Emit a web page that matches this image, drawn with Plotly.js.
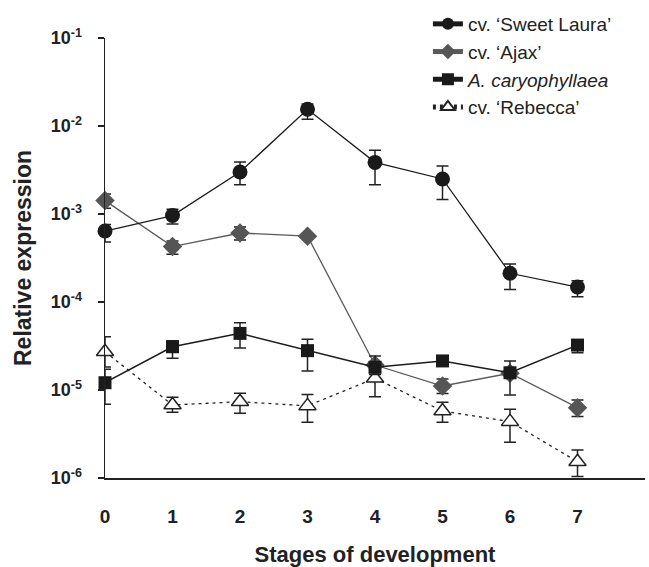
<!DOCTYPE html>
<html>
<head>
<meta charset="utf-8">
<script src="https://cdn.plot.ly/plotly-3.0.1.min.js"></script>
<style>html,body{margin:0;padding:0;background:#fff;}#chart{width:649px;height:567px;}</style>
</head>
<body>
<div id="chart"></div>
<script>
// Stages of development
const stages = [0, 1, 2, 3, 4, 5, 6, 7];

// cv. 'Sweet Laura'
const sweetLaura   = [6.4e-4, 9.6e-4, 3.0e-3, 1.55e-2, 3.86e-3, 2.5e-3, 2.12e-4, 1.48e-4];
const sweetLauraHi = [7.6e-4, 1.13e-3, 3.9e-3, 1.78e-2, 5.3e-3, 3.5e-3, 2.7e-4, 1.74e-4];
const sweetLauraLo = [4.8e-4, 7.7e-4, 2.15e-3, 1.19e-2, 2.15e-3, 1.46e-3, 1.39e-4, 1.15e-4];

// cv. 'Ajax'
const ajax   = [1.42e-3, 4.26e-4, 6.08e-4, 5.6e-4, 1.92e-5, 1.11e-5, 1.55e-5, 6.3e-6];
const ajaxHi = [1.69e-3, 4.93e-4, 7.1e-4, 5.9e-4, 2.1e-5, 1.33e-5, 1.7e-5, 7.7e-6];
const ajaxLo = [1.16e-3, 3.48e-4, 5.07e-4, 5.3e-4, 1.75e-5, 9.1e-6, 1.4e-5, 5.0e-6];

// A. caryophyllaea
const caryo   = [1.21e-5, 3.1e-5, 4.4e-5, 2.8e-5, 1.81e-5, 2.14e-5, 1.57e-5, 3.24e-5];
const caryoHi = [1.72e-5, 3.63e-5, 5.8e-5, 3.77e-5, 2.43e-5, 2.35e-5, 2.14e-5, 3.6e-5];
const caryoLo = [6.9e-6, 2.29e-5, 3.0e-5, 1.64e-5, 1.5e-5, 1.95e-5, 8.8e-6, 2.65e-5];

// cv. 'Rebecca'
const rebecca   = [2.72e-5, 6.76e-6, 7.36e-6, 6.6e-6, 1.36e-5, 5.77e-6, 4.37e-6, 1.53e-6];
const rebeccaHi = [4.04e-5, 8.26e-6, 9.16e-6, 8.9e-6, 1.82e-5, 7.24e-6, 6.03e-6, 2.08e-6];
const rebeccaLo = [1.82e-5, 5.58e-6, 5.43e-6, 4.3e-6, 8.4e-6, 4.3e-6, 2.55e-6, 1.04e-6];

// Tick labels
const yTickVals = [1e-6, 1e-5, 1e-4, 1e-3, 1e-2, 1e-1];
const yTickText = ['10<sup>-6</sup>', '10<sup>-5</sup>', '10<sup>-4</sup>', '10<sup>-3</sup>', '10<sup>-2</sup>', '10<sup>-1</sup>'];
const xTickText = ['0', '1', '2', '3', '4', '5', '6', '7'];

const names = {
  sl: "cv. \u2018Sweet Laura\u2019",
  aj: "cv. \u2018Ajax\u2019",
  ca: "<i>A. caryophyllaea</i>",
  rb: "cv. \u2018Rebecca\u2019"
};

function errs(v, hi, lo, color) {
  return {
    type: 'data', symmetric: false,
    array: v.map((d, i) => hi[i] - d),
    arrayminus: v.map((d, i) => d - lo[i]),
    color: color, thickness: 1.5, width: 6
  };
}

const traces = [
  {
    x: stages, y: rebecca, name: names.rb, type: 'scatter', mode: 'lines+markers',
    line: {color: '#222', width: 1.3, dash: '3px,4px'},
    marker: {symbol: 'triangle-up', size: 15, color: '#fff', line: {color: '#222', width: 1.5}},
    error_y: errs(rebecca, rebeccaHi, rebeccaLo, '#222'),
    cliponaxis: false, legendrank: 4
  },
  {
    x: stages, y: ajax, name: names.aj, type: 'scatter', mode: 'lines+markers',
    line: {color: '#5a5a5a', width: 1.3},
    marker: {symbol: 'diamond', size: 15, color: '#555555'},
    error_y: errs(ajax, ajaxHi, ajaxLo, '#222'),
    cliponaxis: false, legendrank: 2
  },
  {
    x: stages, y: caryo, name: names.ca, type: 'scatter', mode: 'lines+markers',
    line: {color: '#1a1a1a', width: 1.5},
    marker: {symbol: 'square', size: 13, color: '#1a1a1a'},
    error_y: errs(caryo, caryoHi, caryoLo, '#222'),
    cliponaxis: false, legendrank: 3
  },
  {
    x: stages, y: sweetLaura, name: names.sl, type: 'scatter', mode: 'lines+markers',
    line: {color: '#1a1a1a', width: 1.3},
    marker: {symbol: 'circle', size: 15, color: '#1a1a1a'},
    error_y: errs(sweetLaura, sweetLauraHi, sweetLauraLo, '#222'),
    cliponaxis: false, legendrank: 1
  }
];

const layout = {
  width: 649, height: 567,
  margin: {l: 105, r: 4, t: 38, b: 89},
  paper_bgcolor: '#fff', plot_bgcolor: '#fff',
  font: {family: '"Liberation Sans", Arial, sans-serif', color: '#222'},
  showlegend: true,
  legend: {
    x: 0.598, xanchor: 'left', y: 1.075, yanchor: 'top',
    font: {size: 19, color: '#222'}, bgcolor: 'rgba(0,0,0,0)',
    tracegroupgap: 0, itemsizing: 'constant'
  },
  xaxis: {
    range: [0, 8], showgrid: false, zeroline: false,
    showline: true, linecolor: '#222', linewidth: 1.5,
    ticks: '', tickvals: stages, ticktext: xTickText,
    tickfont: {size: 19, weight: 'bold', color: '#222'},
    ticklabelstandoff: 21,
    title: {text: 'Stages of development', font: {size: 22, weight: 'bold', color: '#222'}, standoff: 22}
  },
  yaxis: {
    type: 'log', range: [-6, -1], showgrid: false, zeroline: false,
    showline: true, linecolor: '#222', linewidth: 1.5,
    ticks: 'outside', ticklen: 6, tickwidth: 1.5, tickcolor: '#222',
    tickvals: yTickVals, ticktext: yTickText,
    tickfont: {size: 18, weight: 'bold', color: '#222'},
    ticklabelstandoff: 12,
    title: {text: 'Relative expression', font: {size: 23, weight: 'bold', color: '#222'}, standoff: 12}
  }
};

Plotly.newPlot('chart', traces, layout, {displayModeBar: false, staticPlot: true});
</script>
</body>
</html>
